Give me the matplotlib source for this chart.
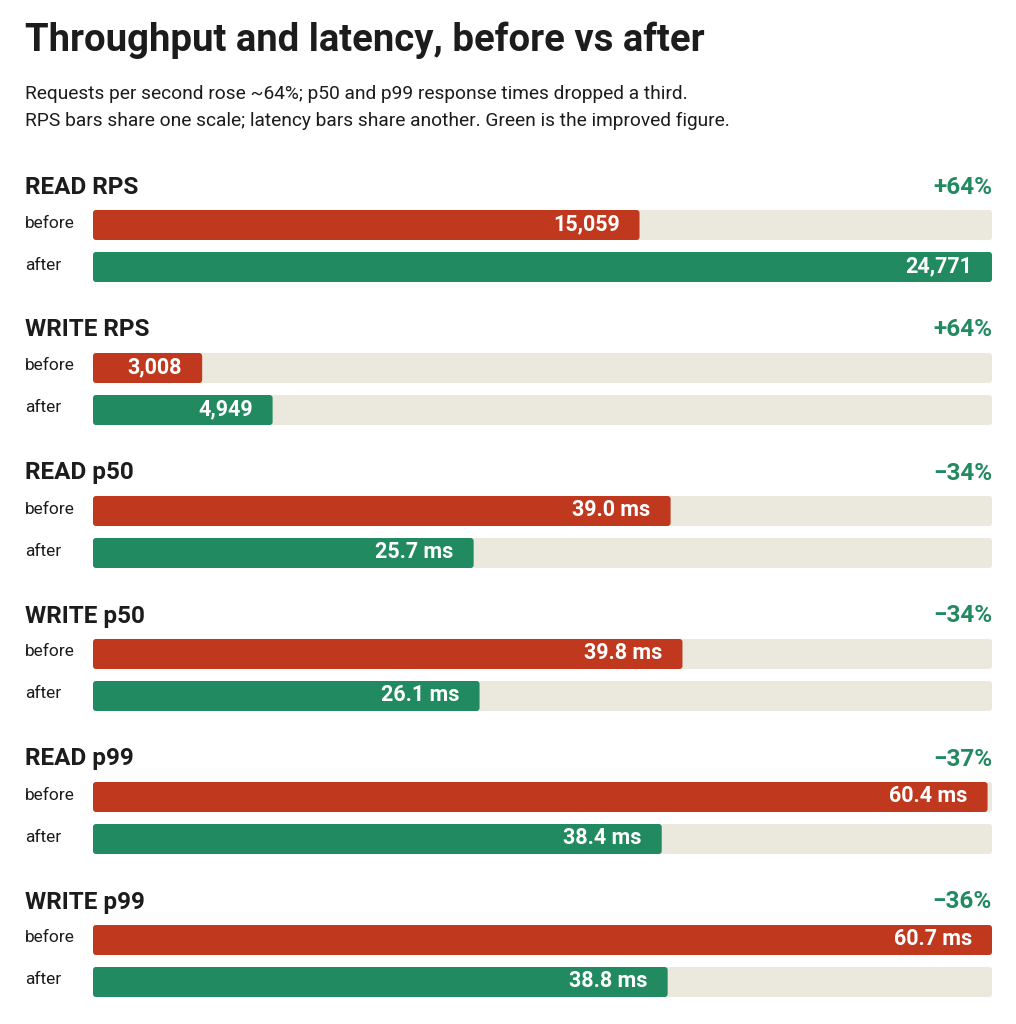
import matplotlib
matplotlib.use("Agg")
import matplotlib.pyplot as plt
from matplotlib.patches import FancyBboxPatch

plt.rcParams['font.family'] = ['Roboto', 'DejaVu Sans']

metrics = ["READ RPS", "WRITE RPS", "READ p50", "WRITE p50", "READ p99", "WRITE p99"]
before = [15059, 3008, 39.0, 39.8, 60.4, 60.7]
after = [24771, 4949, 25.7, 26.1, 38.4, 38.8]
changes = ["+64%", "+64%", "−34%", "−34%", "−37%", "−36%"]
kind = ["rps", "rps", "ms", "ms", "ms", "ms"]

RED = "#C0391F"
GREEN = "#218A60"
TRACK = "#EBE8DD"
INK = "#1C1C1C"

W, H = 1016, 1024
fig = plt.figure(figsize=(W / 100, H / 100), dpi=100)
fig.patch.set_facecolor("white")

def fy(px):
    return 1 - px / H

fig.text(25 / W, fy(51), "Throughput and latency, before vs after", fontsize=27.5,
         fontweight="bold", color=INK, va="baseline", ha="left")
fig.text(25 / W, fy(94), "Requests per second rose ~64%; p50 and p99 response times dropped a third.",
         fontsize=13.8, color=INK, va="center", ha="left")
fig.text(25 / W, fy(121), "RPS bars share one scale; latency bars share another. Green is the improved figure.",
         fontsize=13.8, color=INK, va="center", ha="left")

rps_max = max(max(b, a) for b, a, k in zip(before, after, kind) if k == "rps")
ms_max = max(max(b, a) for b, a, k in zip(before, after, kind) if k == "ms")

x0, x1 = 93, 992
bar_px = 30
gap_px = 42
step = 143
rad_px = 3

def fmt(v, k):
    return f"{v:,.0f}" if k == "rps" else f"{v:.1f} ms"

for i, m in enumerate(metrics):
    top = 210 + step * i
    bot = top + gap_px + bar_px
    ax = fig.add_axes([x0 / W, fy(bot), (x1 - x0) / W, (bot - top) / H])
    vmax = rps_max if kind[i] == "rps" else ms_max
    half = bar_px / 2 / gap_px
    ax.set_xlim(0, vmax)
    ax.set_ylim(-half, 1 + half)
    ax.axis("off")
    xupp = vmax / (x1 - x0)
    yupp = (1 + 2 * half) / (bot - top)
    h = bar_px / gap_px
    ys = [1, 0]
    tracks = ax.barh(ys, [vmax, vmax], height=h, color=TRACK)
    bars = ax.barh(ys, [before[i], after[i]], height=h, color=[RED, GREEN])
    for b in list(tracks) + list(bars):
        x, y = b.get_x(), b.get_y()
        w, hh = b.get_width(), b.get_height()
        p = FancyBboxPatch((x, y), w, hh,
                           boxstyle=f"round,pad=0,rounding_size={rad_px * xupp}",
                           mutation_aspect=yupp / xupp,
                           facecolor=b.get_facecolor(), edgecolor="none")
        b.set_visible(False)
        ax.add_patch(p)
    for v, y in zip([before[i], after[i]], ys):
        ax.annotate(fmt(v, kind[i]), (v, y), xytext=(-20, 1), textcoords="offset pixels",
                    ha="right", va="center", color="white", fontsize=15.5, fontweight="bold")
    fig.text(25 / W, fy(top - 23), m, fontsize=17.5, fontweight="bold", color=INK,
             ha="left", va="center")
    fig.text(992 / W, fy(top - 23), changes[i], fontsize=17.5, fontweight="bold", color=GREEN,
             ha="right", va="center")
    fig.text(25 / W, fy(top + 13), "before", fontsize=12.5, color=INK, ha="left", va="center")
    fig.text(25 / W, fy(top + 55), "after", fontsize=12.5, color=INK, ha="left", va="center")

fig.savefig("out.png", dpi=100, facecolor="white")
